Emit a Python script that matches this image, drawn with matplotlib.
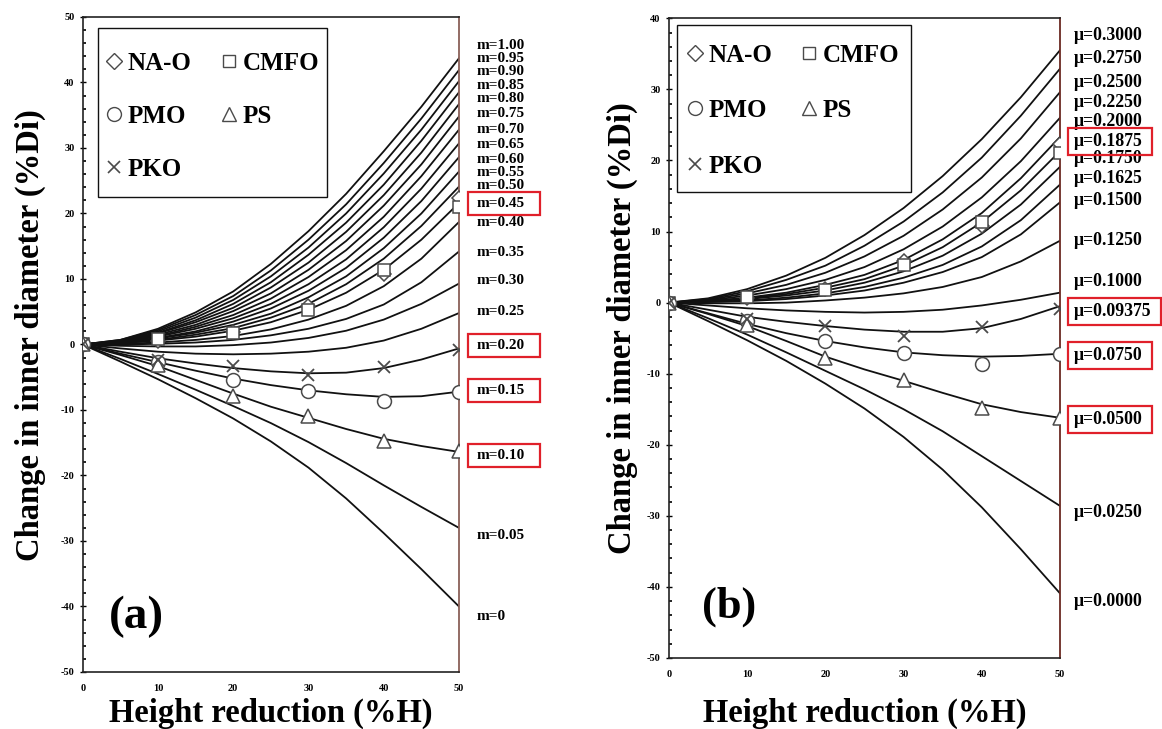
import matplotlib
matplotlib.use("Agg")
import matplotlib.pyplot as plt
import matplotlib.transforms as mtransforms
from matplotlib.lines import Line2D
from matplotlib.patches import Rectangle
from matplotlib.ticker import MultipleLocator

plt.rcParams['font.family'] = ['Liberation Serif', 'DejaVu Serif']
plt.rcParams['font.weight'] = 'bold'
plt.rcParams['axes.labelweight'] = 'bold'
plt.rcParams['axes.unicode_minus'] = False

# height reduction (%H) where the model curves were read
x_curve = [0, 5, 10, 15, 20, 25, 30, 35, 40, 45, 50]

# panel (a): friction factor m, curves from m=0 up to m=1.00
m_labels = ["m=0", "m=0.05", "m=0.10", "m=0.15", "m=0.20", "m=0.25", "m=0.30",
            "m=0.35", "m=0.40", "m=0.45", "m=0.50", "m=0.55", "m=0.60", "m=0.65",
            "m=0.70", "m=0.75", "m=0.80", "m=0.85", "m=0.90", "m=0.95", "m=1.00"]
curves_a = [
    [0, -2.6, -5.3, -8.2, -11.3, -14.8, -18.8, -23.5, -28.8, -34.3, -40.0],
    [0, -2.2, -4.5, -6.9, -9.4, -12.0, -14.9, -18.1, -21.5, -24.8, -28.0],
    [0, -1.6, -3.3, -5.4, -7.5, -9.5, -11.2, -12.9, -14.4, -15.5, -16.4],
    [0, -1.4, -2.7, -4.0, -5.2, -6.2, -7.0, -7.6, -8.0, -7.9, -7.2],
    [0, -1.1, -2.1, -2.9, -3.6, -4.1, -4.4, -4.3, -3.6, -2.3, -0.6],
    [0, -0.6, -1.1, -1.4, -1.5, -1.4, -1.1, -0.5, 0.6, 2.4, 4.8],
    [0, -0.2, -0.3, -0.3, -0.1, 0.3, 1.0, 2.1, 3.8, 6.2, 9.3],
    [0, 0.0, 0.1, 0.3, 0.7, 1.4, 2.4, 3.9, 6.1, 9.5, 14.2],
    [0, 0.1, 0.3, 0.7, 1.3, 2.3, 3.8, 5.9, 8.9, 13.1, 18.7],
    [0, 0.2, 0.6, 1.2, 2.1, 3.4, 5.3, 7.9, 11.4, 16.0, 21.6],
    [0, 0.2, 0.7, 1.5, 2.5, 4.1, 6.2, 9.2, 13.1, 18.1, 24.1],
    [0, 0.3, 0.9, 1.8, 3.0, 4.7, 7.2, 10.4, 14.7, 20.0, 26.4],
    [0, 0.3, 1.0, 2.0, 3.5, 5.5, 8.2, 11.7, 16.3, 21.9, 28.6],
    [0, 0.4, 1.2, 2.4, 4.0, 6.2, 9.2, 13.0, 17.9, 23.8, 30.7],
    [0, 0.4, 1.3, 2.7, 4.5, 7.0, 10.3, 14.4, 19.5, 25.7, 32.8],
    [0, 0.5, 1.5, 3.0, 5.1, 7.8, 11.4, 15.8, 21.2, 27.5, 34.8],
    [0, 0.5, 1.7, 3.4, 5.6, 8.7, 12.5, 17.2, 22.8, 29.3, 36.7],
    [0, 0.5, 1.8, 3.7, 6.2, 9.5, 13.7, 18.6, 24.4, 31.1, 38.5],
    [0, 0.6, 2.0, 4.1, 6.8, 10.4, 14.8, 20.0, 26.1, 32.8, 40.2],
    [0, 0.7, 2.2, 4.5, 7.4, 11.3, 16.0, 21.4, 27.7, 34.5, 41.9],
    [0, 0.7, 2.4, 4.9, 8.1, 12.3, 17.3, 23.0, 29.5, 36.3, 43.7],
]
m_label_y = [-41.6, -29.1, -16.9, -7.1, -0.1, 5.1, 9.7, 14.1, 18.7, 21.5, 24.2,
             26.2, 28.2, 30.5, 32.8, 35.2, 37.5, 39.6, 41.7, 43.7, 45.7]
m_boxed = ["m=0.10", "m=0.15", "m=0.20", "m=0.45"]

# panel (b): friction coefficient mu
mu_labels = ["μ=0.0000", "μ=0.0250", "μ=0.0500", "μ=0.0750", "μ=0.09375", "μ=0.1000",
             "μ=0.1250", "μ=0.1500", "μ=0.1625", "μ=0.1750", "μ=0.1875", "μ=0.2000",
             "μ=0.2250", "μ=0.2500", "μ=0.2750", "μ=0.3000"]
curves_b = [
    [0, -2.6, -5.3, -8.2, -11.4, -14.9, -18.9, -23.5, -28.8, -34.7, -40.9],
    [0, -2.2, -4.5, -7.0, -9.6, -12.2, -15.0, -18.1, -21.6, -25.1, -28.6],
    [0, -1.6, -3.3, -5.4, -7.6, -9.4, -11.0, -12.7, -14.3, -15.4, -16.2],
    [0, -1.5, -3.0, -4.3, -5.4, -6.3, -7.0, -7.4, -7.6, -7.5, -7.2],
    [0, -1.0, -2.0, -2.7, -3.3, -3.8, -4.1, -4.1, -3.6, -2.3, -0.5],
    [0, -0.4, -0.8, -1.1, -1.3, -1.4, -1.3, -1.0, -0.4, 0.4, 1.4],
    [0, -0.1, -0.1, 0.0, 0.3, 0.7, 1.3, 2.2, 3.6, 5.8, 8.7],
    [0, 0.1, 0.2, 0.5, 1.0, 1.7, 2.8, 4.3, 6.4, 9.6, 14.1],
    [0, 0.1, 0.3, 0.7, 1.3, 2.2, 3.5, 5.3, 7.9, 11.6, 16.6],
    [0, 0.2, 0.5, 1.0, 1.7, 2.8, 4.4, 6.6, 9.7, 13.8, 19.1],
    [0, 0.2, 0.6, 1.2, 2.1, 3.3, 5.2, 7.8, 11.3, 15.8, 21.3],
    [0, 0.2, 0.7, 1.4, 2.5, 3.9, 6.0, 8.9, 12.6, 17.5, 23.3],
    [0, 0.3, 1.0, 1.9, 3.2, 5.0, 7.5, 10.7, 14.8, 19.9, 26.0],
    [0, 0.4, 1.3, 2.5, 4.2, 6.5, 9.4, 13.1, 17.6, 23.1, 29.6],
    [0, 0.5, 1.6, 3.2, 5.2, 8.0, 11.4, 15.5, 20.4, 26.3, 32.9],
    [0, 0.6, 1.9, 3.8, 6.3, 9.5, 13.3, 17.8, 23.0, 28.9, 35.5],
]
mu_label_y = [-42.1, -29.5, -16.5, -7.4, -1.2, 2.9, 8.8, 14.4, 17.5, 20.3, 22.7,
              25.5, 28.2, 31.0, 34.4, 37.6]
mu_boxed = ["μ=0.0500", "μ=0.0750", "μ=0.09375", "μ=0.1875"]

# measured ring-test points (same data on both panels)
exp_x = [0, 10, 20, 30, 40, 50]
na_o = [0, 0.6, 1.9, 5.9, 10.8, 22.3]
cmfo = [0, 0.8, 1.8, 5.3, 11.3, 21.0]
pmo = [0, -2.6, -5.4, -7.1, -8.7, -7.2]
ps = [0, -3.1, -7.8, -10.9, -14.8, -16.3]
pko = [0, -2.3, -3.3, -4.7, -3.4, -0.9]

# name, values, marker, size on plot, size in legend
series = [("NA-O", na_o, "D", 7, 8), ("CMFO", cmfo, "s", 9, 8.5), ("PMO", pmo, "o", 10, 10),
          ("PS", ps, "^", 10, 10.5), ("PKO", pko, "x", 9, 9)]
edge = "#4a4a4a"
red = "#e0202a"
boxed_texts = []


def draw_panel(ax, curves, labels, label_y, boxed, ylo, yhi, lab_x, lab_fs, box_pad,
               tag, tag_fs, tag_pos, leg_anchor, leg_frame, colsp, rowsp,
               ylab_x, xlab_y, right_color):
    for ys in curves:
        ax.plot(x_curve, ys, color="#111111", lw=1.3, zorder=2)

    for name, ys, mk, ms, _ in series:
        if mk == "x":
            ax.plot(exp_x, ys, ls="none", marker=mk, ms=ms, mec=edge, mew=1.3, zorder=4)
        else:
            ax.plot(exp_x, ys, ls="none", marker=mk, ms=ms, mfc="white", mec=edge,
                    mew=1.1, zorder=3)

    trans = mtransforms.blended_transform_factory(ax.transAxes, ax.transData)
    for lab, yy in zip(labels, label_y):
        t = ax.text(lab_x, yy, lab, transform=trans, fontsize=lab_fs, ha="left",
                    va="center", clip_on=False)
        if lab in boxed:
            boxed_texts.append((t, box_pad))

    ax.set_xlim(0, 50)
    ax.set_ylim(ylo, yhi)
    ax.set_xticks(range(0, 51, 10))
    ax.set_yticks(range(ylo, yhi + 1, 10))
    ax.yaxis.set_minor_locator(MultipleLocator(2))
    ax.tick_params(axis="x", length=0, pad=9, labelsize=7.5)
    ax.tick_params(axis="y", which="major", direction="inout", length=4, width=1,
                   pad=4, labelsize=7.5)
    ax.tick_params(axis="y", which="minor", direction="in", length=2, width=1.2)
    for side in ["left", "bottom", "top"]:
        ax.spines[side].set_linewidth(1.2)
        ax.spines[side].set_color("#222222")
    ax.spines["right"].set_color(right_color)
    ax.spines["right"].set_linewidth(1.3)

    ax.set_xlabel("Height reduction (%H)", fontsize=23.5, fontweight="bold")
    ax.set_ylabel("Change in inner diameter (%Di)", fontsize=23.5, fontweight="bold")
    ax.xaxis.set_label_coords(0.5, xlab_y)
    ax.yaxis.set_label_coords(ylab_x, 0.515)

    ax.text(tag_pos[0], tag_pos[1], tag, transform=ax.transAxes, fontsize=tag_fs,
            fontweight="bold", ha="center", va="center")

    handles = []
    for name, ys, mk, ms, lms in series:
        if mk == "x":
            handles.append(Line2D([], [], ls="none", marker=mk, ms=lms, mec=edge, mew=1.2, label=name))
        else:
            handles.append(Line2D([], [], ls="none", marker=mk, ms=lms, mfc="white",
                                  mec=edge, mew=1.0, label=name))
    order = [0, 2, 4, 1, 3]
    leg = ax.legend(handles=[handles[i] for i in order], ncol=2, loc="upper left",
                    bbox_to_anchor=leg_anchor, fontsize=18, frameon=False,
                    handlelength=0.6, handletextpad=0.26, columnspacing=colsp,
                    labelspacing=rowsp, borderpad=0, borderaxespad=0)
    leg.set_zorder(6)
    # legend frame drawn on its own so its padding can differ per side
    ax.add_patch(Rectangle(leg_frame[:2], leg_frame[2], leg_frame[3],
                           transform=ax.transAxes, fc="white", ec="#111111", lw=1.0,
                           zorder=5))


fig = plt.figure(figsize=(11.62, 7.29), dpi=100)
ax_a = fig.add_axes([0.0712, 0.0782, 0.3238, 0.8985])
ax_b = fig.add_axes([0.5757, 0.0974, 0.3365, 0.8775])

draw_panel(ax_a, curves_a, m_labels, m_label_y, m_boxed, -50, 50, 1.048, 11,
           (9, 15, 5), "(a)", 34, (0.144, 0.084), (0.063, 0.947),
           (0.041, 0.725, 0.608, 0.258), 1.18, 1.2, -0.098, -0.040, "#8a6058")
draw_panel(ax_b, curves_b, mu_labels, mu_label_y, mu_boxed, -50, 40, 1.036, 12.8,
           (6, 9, 5), "(b)", 32, (0.153, 0.080), (0.047, 0.9606),
           (0.020, 0.728, 0.599, 0.2615), 1.15, 1.3, -0.078, -0.062, "#6b2a22")

# red highlight frames around selected curve labels, padded as in the figure
fig.canvas.draw()
renderer = fig.canvas.get_renderer()
for t, (pl, pr, pv) in boxed_texts:
    bb = t.get_window_extent(renderer)
    fig.add_artist(Rectangle((bb.x0 - pl, bb.y0 - pv), bb.width + pl + pr,
                             bb.height + 2 * pv, transform=mtransforms.IdentityTransform(),
                             fill=False, ec=red, lw=1.6))

fig.savefig("out.png", dpi=100)
